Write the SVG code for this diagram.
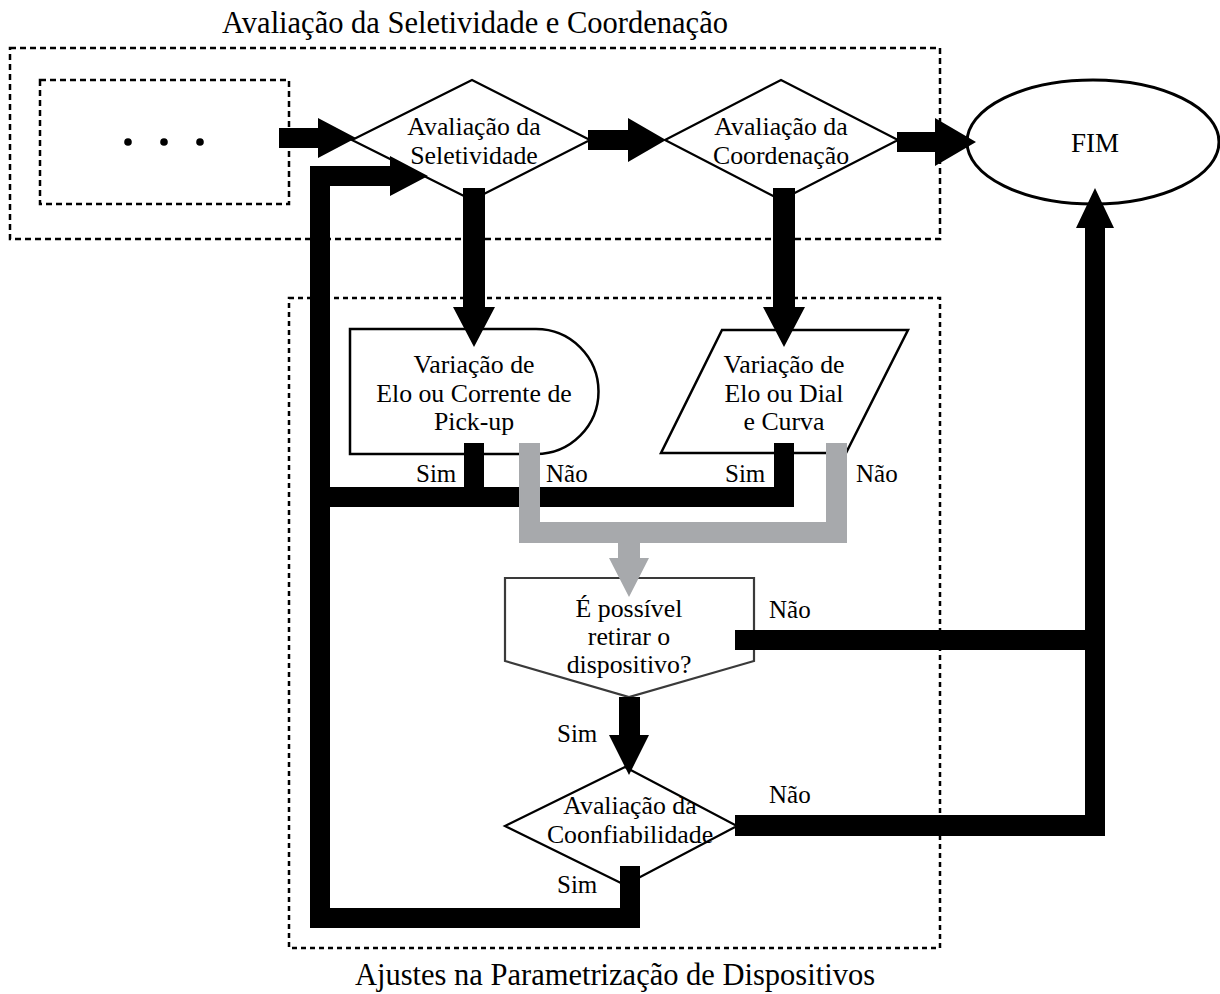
<svg xmlns="http://www.w3.org/2000/svg" width="1220" height="994" viewBox="0 0 1220 994">
<style>
.t{font-family:"Liberation Serif","Times New Roman",serif;fill:#000;text-anchor:middle}
.n{font-size:25.8px}
.big{font-size:30.5px}
.lbl{font-size:25px;text-anchor:start}
.shape{fill:#fff;stroke:#000;stroke-width:2.2}
.dash{fill:none;stroke:#000;stroke-width:2.5;stroke-dasharray:6,4}
.conn{fill:#000}
.gray{fill:#a7a9ac}
</style>
<rect width="1220" height="994" fill="#fff"/>
<g id="frames">
<rect class="dash" x="10" y="48" width="930" height="191"/>
<rect class="dash" x="40" y="80" width="249" height="124"/>
<rect class="dash" x="289" y="298" width="651" height="650" style="stroke-dasharray:5,4"/>
<text class="t big" x="475" y="33">Avaliação da Seletividade e Coordenação</text>
<text class="t big" x="615" y="985">Ajustes na Parametrização de Dispositivos</text>
</g>
<g id="ellipsis">
<circle cx="128" cy="142" r="3.8"/>
<circle cx="164" cy="142" r="3.8"/>
<circle cx="200" cy="142" r="3.8"/>
</g>
<g id="d1">
<polygon class="shape" points="352,140 472,80 590,140 472,200"/>
<text class="t n" x="474" y="135">Avaliação da</text>
<text class="t n" x="474" y="164">Seletividade</text>
</g>
<g id="d2">
<polygon class="shape" points="665,140 781,80 898,140 781,200"/>
<text class="t n" x="781" y="135">Avaliação da</text>
<text class="t n" x="781" y="164">Coordenação</text>
</g>
<g id="fim">
<ellipse class="shape" cx="1093" cy="142" rx="126" ry="62" style="stroke-width:3"/>
<text class="t" x="1095" y="152" style="font-size:27px">FIM</text>
</g>
<g id="box1">
<path class="shape" d="M350,329 H536 A62.5,62.5 0 0 1 536,454 H350 Z" style="stroke-width:2.5"/>
<text class="t n" x="474" y="373">Variação de</text>
<text class="t n" x="474" y="402">Elo ou Corrente de</text>
<text class="t n" x="474" y="430">Pick-up</text>
</g>
<g id="box2">
<polygon class="shape" points="722,330 908,330 846,453 661,453" style="stroke-width:2.5"/>
<text class="t n" x="784" y="373">Variação de</text>
<text class="t n" x="784" y="402">Elo ou Dial</text>
<text class="t n" x="784" y="430">e Curva</text>
</g>
<g id="box3">
<polygon class="shape" points="505,578 754,578 754,661 629,697 505,661" style="stroke:#3a3a3a"/>
<text class="t n" x="629" y="617">É possível</text>
<text class="t n" x="629" y="645">retirar o</text>
<text class="t n" x="629" y="673">dispositivo?</text>
</g>
<g id="d3">
<polygon class="shape" points="505,826 625,767 737,826 625,885"/>
<text class="t n" x="630" y="814">Avaliação da</text>
<text class="t n" x="630" y="843">Coonfiabilidade</text>
</g>
<g id="connectors">
<path class="conn" d="M279,128 H318 V118 L356,138 L318,158 V148 H279 Z"/>
<path class="conn" d="M588,130 H628 V118 L666,140 L628,162 V150 H588 Z"/>
<path class="conn" d="M897,132 H935 V118 L976,142 L935,166 V152 H897 Z"/>
<path class="conn" d="M463,188 H485 V307 H495 L474,347 L453,307 H463 Z"/>
<path class="conn" d="M773,188 H795 V307 H805 L784,347 L763,307 H773 Z"/>
<path class="conn" d="M310,166 H390 V156 L428,176 L390,196 V186 H330 V908 H620 V866 H640 V928 H310 Z"/>
<path class="conn" d="M330,487 H464 V443 H484 V487 H774 V443 H794 V507 H330 Z"/>
<path class="gray" d="M519,443 H540 V522 H826 V443 H847 V543 H640 V558 H649 L629,597 L609,558 H618 V543 H519 Z"/>
<path class="conn" d="M619,697 H640 V735 H649 L629,775 L609,735 H619 Z"/>
<path class="conn" d="M735,630 H1085 V228 H1076 L1095,188 L1114,228 H1105 V836 H735 V815 H1085 V650 H735 Z"/>
</g>
<g id="labels">
<text class="t lbl" x="416" y="482">Sim</text>
<text class="t lbl" x="546" y="482">Não</text>
<text class="t lbl" x="725" y="482">Sim</text>
<text class="t lbl" x="856" y="482">Não</text>
<text class="t lbl" x="769" y="618">Não</text>
<text class="t lbl" x="557" y="742">Sim</text>
<text class="t lbl" x="769" y="803">Não</text>
<text class="t lbl" x="557" y="893">Sim</text>
</g>
</svg>
